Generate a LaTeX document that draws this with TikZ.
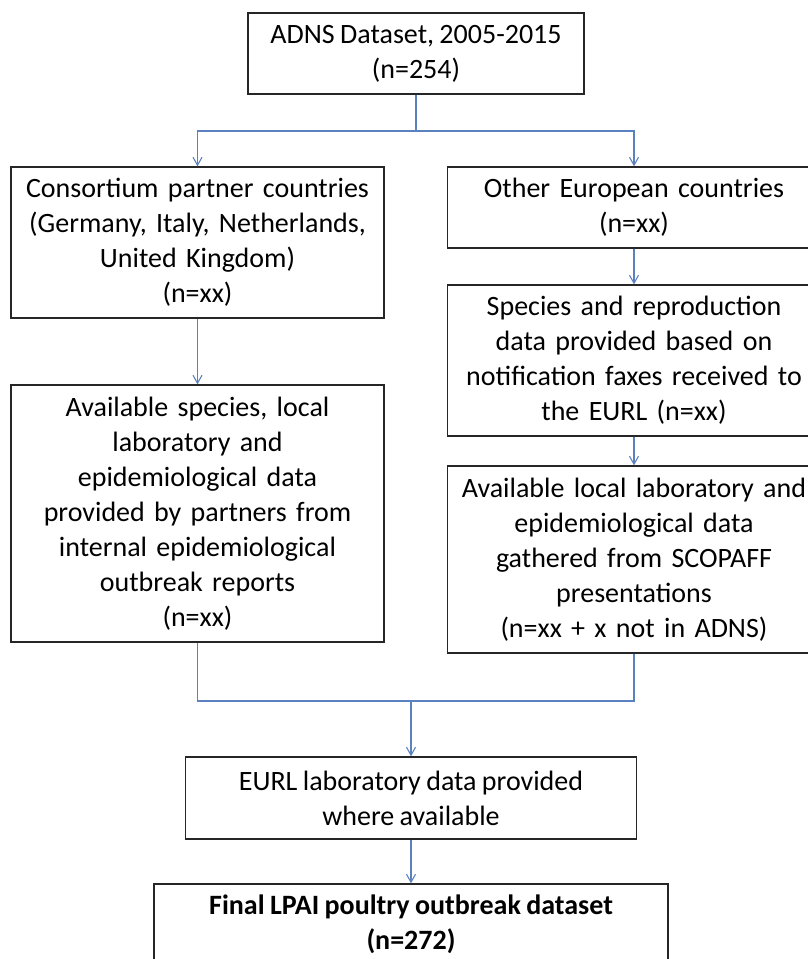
\documentclass[tikz,border=0pt]{standalone}
\usepackage{fontspec}
\setmainfont{Carlito}[WordSpace=0.85]
\usetikzlibrary{arrows.meta}
\definecolor{linkblue}{HTML}{5B82BE}
\tikzset{box/.style={draw=black!85, line width=1.3pt, align=center, inner sep=0pt,
   font=\fontsize{28}{35}\selectfont},
 wide/.style={minimum width=373pt, text width=366pt},
 link/.style={draw=linkblue, line width=1.1pt},
 arrow/.style={link, -{Straight Barb[length=8pt,width=9pt]}},
 }

\begin{document}
\begin{tikzpicture}[x=1pt, y=-1pt]
        \useasboundingbox (0,0) rectangle (807,959);
        \node[box, minimum width=336pt, minimum height=81pt] (top) at (416,53.5)
            {ADNS Dataset, 2005-2015\\(n=254)};
        \node[box, wide, minimum height=151pt] (cons) at (197.5,242.5)
            {Consortium partner countries\\(Germany, Italy, Netherlands,\\United Kingdom)\\(n=xx)};
        \node[box, wide, minimum height=257pt] (partners) at (197.5,513.5)
            {Available species, local\\laboratory and\\epidemiological data\\provided by partners from\\internal epidemiological\\outbreak reports\\(n=xx)};
        \node[box, wide, minimum height=81pt] (other) at (634,207.5)
            {Other European countries\\(n=xx)};
        \node[box, wide, minimum height=151pt] (faxes) at (634,360.5)
            {Species and reproduction\\data provided based on\\notification faxes received to\\the EURL (n=xx)};
        \node[box, wide, minimum height=187pt] (scopaff) at (634,559.5)
            {Available local laboratory and\\epidemiological data\\gathered from SCOPAFF\\presentations\\(n=xx + x not in ADNS)};
        \node[box, minimum width=451pt, minimum height=82pt] (eurl) at (411,798)
            {EURL laboratory data provided\\where available};
        \node[box, minimum width=514pt, minimum height=81pt, font=\fontsize{28}{35}\selectfont\bfseries] (final) at (411,924.5)
            {Final LPAI poultry outbreak dataset\\(n=272)};
        % split below the dataset box
        \coordinate (split) at (416,131);
        \draw[link] (top) -- (split);
        \draw[arrow] (split) -| (cons);
        \draw[arrow] (split) -| (other);
        \draw[arrow] (cons) -- (partners);
        \draw[arrow] (other) -- (faxes);
        \draw[arrow] (faxes) -- (scopaff);
        % both columns join again
        \coordinate (join) at (411,701);
        \draw[link] (partners) |- (join);
        \draw[link] (scopaff) |- (join);
        \draw[arrow] (join) -- (eurl);
        \draw[arrow] (eurl) -- (final);
    \end{tikzpicture}
\end{document}
